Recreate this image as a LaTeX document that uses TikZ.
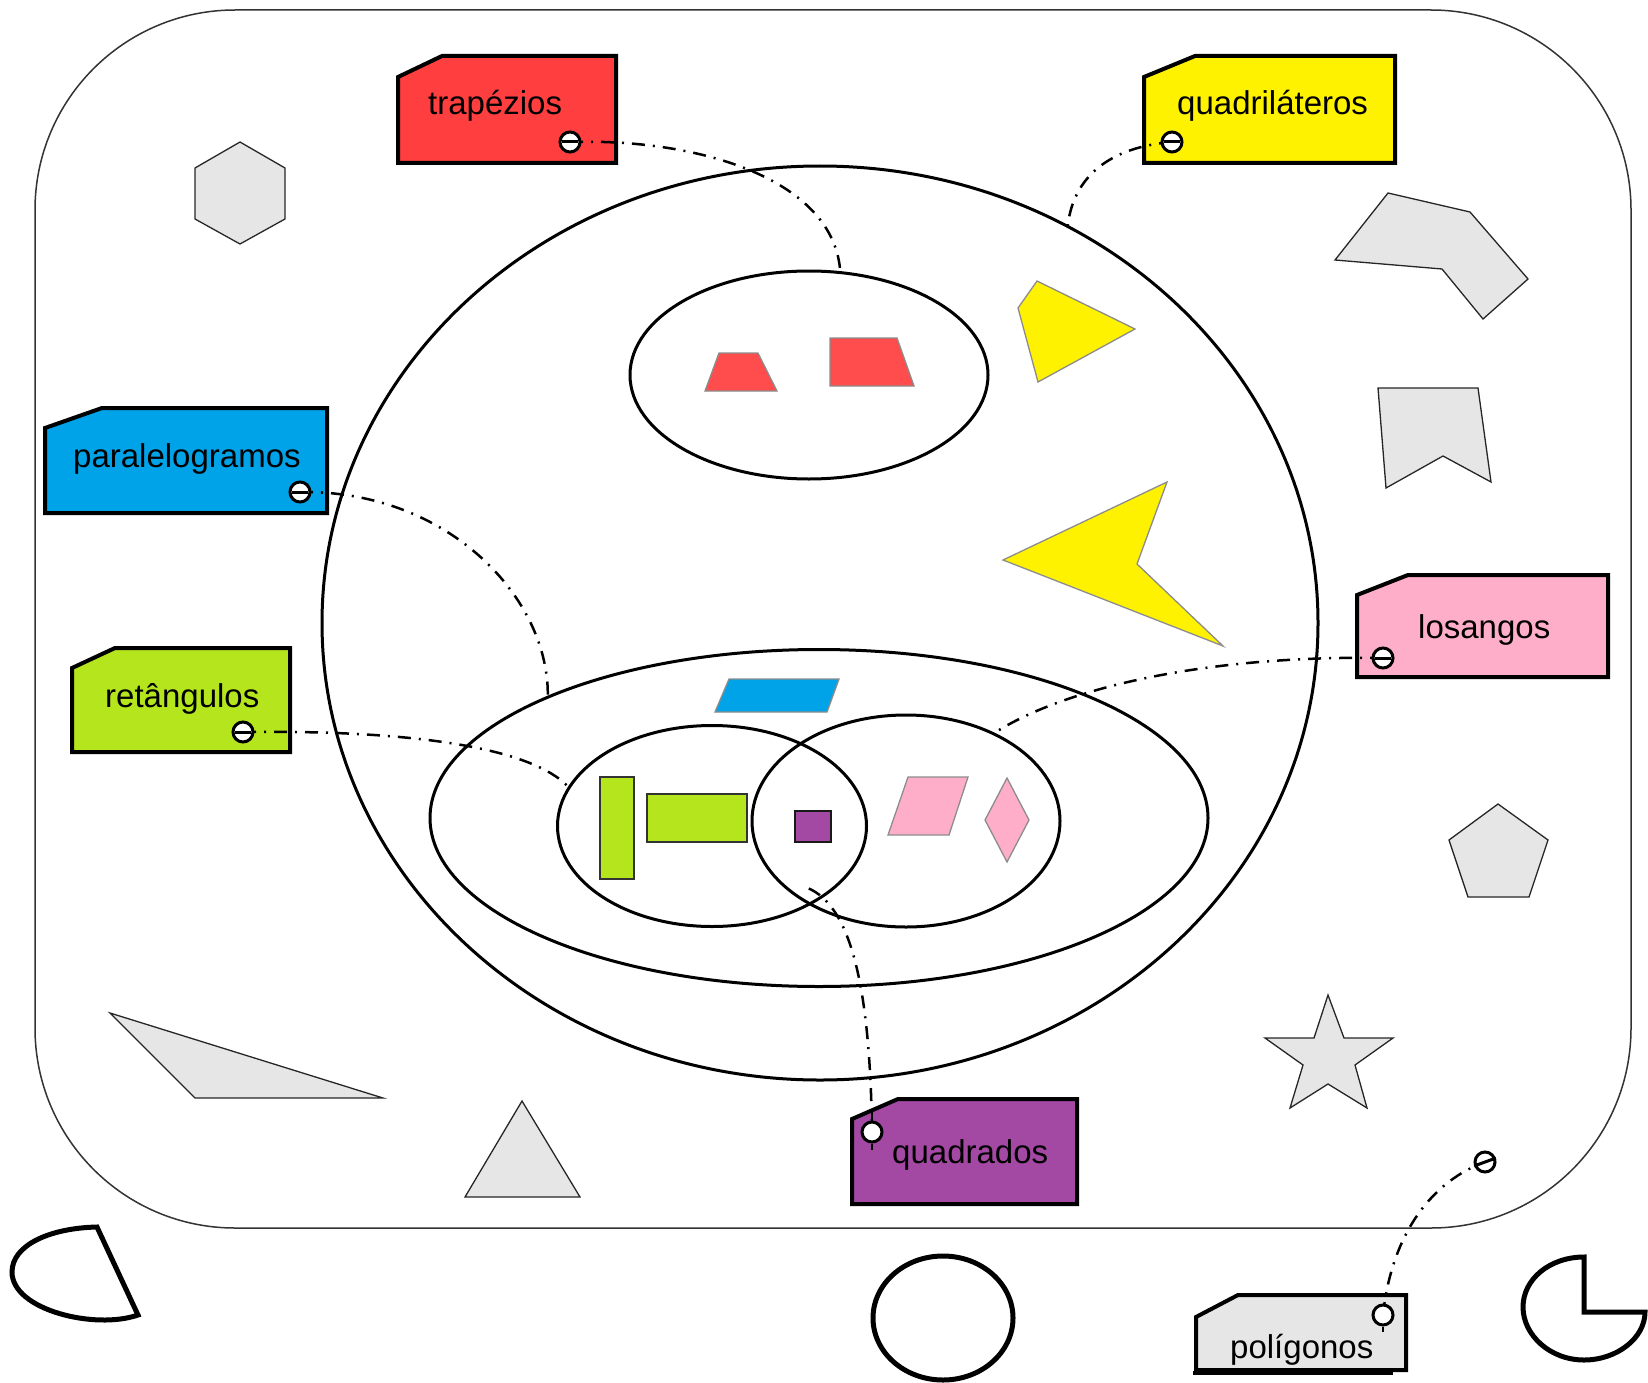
\documentclass[tikz,border=0pt]{standalone}
\usepackage{fontspec}
\setmainfont{Liberation Sans}
\usepackage{xcolor}
\usepackage{tikz}
\usetikzlibrary{shapes.geometric}

\definecolor{tagred}{HTML}{FF3F3F}
\definecolor{trapred}{HTML}{FF4C4C}
\definecolor{tagyellow}{HTML}{FFF200}
\definecolor{tagblue}{HTML}{00A2E8}
\definecolor{taggreen}{HTML}{B5E61D}
\definecolor{tagpink}{HTML}{FFAEC9}
\definecolor{tagpurple}{HTML}{A349A4}
\definecolor{shapegrey}{HTML}{E6E6E6}

\tikzset{
	conjunto/.style={ellipse, draw, line width=3pt, inner sep=0pt, outer sep=0pt},
	tagbox/.style={draw, line width=4pt, line join=miter},
	tagtext/.style={font=\fontsize{33}{40}\selectfont, anchor=base west, inner sep=0pt},
	tagopen/.style={circle, draw, fill=white, line width=3pt, minimum size=20pt, inner sep=0pt},
	tagsym/.style={tagopen, path picture={\draw[line width=3pt] ([xshift=2pt]path picture bounding box.west) -- ([xshift=-2pt]path picture bounding box.east);}},
	ligacao/.style={line width=2.5pt, dash pattern=on 13pt off 8pt on 2pt off 8pt},
	cinza/.style={fill=shapegrey, draw=black!85, line width=1.3pt},
	cor/.style={draw=black!45, line width=1.3pt},
	forma/.style={draw, line width=5pt, fill=white}
}

\begin{document}
\begin{tikzpicture}[x=1pt, y=-1pt]
	\useasboundingbox (0,0) rectangle (1648,1383);

	\draw [line width=1.5pt, black!80, rounded corners=200pt] (35,10) rectangle (1631,1228);

	\begin{scope}[cinza]
		\filldraw (240,142) -- (285,168) -- (285,219) -- (240,244) -- (195,219) -- (195,168) -- cycle;
		\filldraw (1335,260) -- (1388,193) -- (1470,212) -- (1528,279) -- (1483,319) -- (1442,269) -- cycle;
		\filldraw (1378,388) -- (1478,388) -- (1491,482) -- (1443,456) -- (1386,488) -- cycle;
		\filldraw (1498,804) -- (1548,840) -- (1529,897) -- (1468,897) -- (1449,840) -- cycle;
		\filldraw (1328,995) -- (1344,1038) -- (1393,1038) -- (1355,1065) -- (1367,1108) -- (1328,1084)
			-- (1290,1108) -- (1303,1065) -- (1265,1038) -- (1314,1038) -- cycle;
		\filldraw (110,1013) -- (383,1098) -- (195,1098) -- cycle;
		\filldraw (522,1101) -- (580,1197) -- (465,1197) -- cycle;
	\end{scope}

	\begin{scope}[forma]
		\filldraw (138,1315) .. controls (95,1330) and (12,1310) .. (12,1272) .. controls (12,1245) and (50,1228) .. (97,1227) -- cycle;
		\filldraw (943,1318) ellipse [x radius=70, y radius=62];
		\filldraw (1584,1257) -- (1584,1312) -- (1645,1312) .. controls (1645,1338) and (1617,1360) .. (1584,1360)
			.. controls (1550,1360) and (1523,1335) .. (1523,1307) .. controls (1523,1279) and (1550,1257) .. (1584,1257) -- cycle;
	\end{scope}

	\begin{scope}[cor]
		\filldraw [fill=trapred] (705,391) -- (719,353) -- (758,353) -- (777,391) -- cycle;
		\filldraw [fill=trapred] (830,338) -- (897,338) -- (914,386) -- (830,386) -- cycle;
		\filldraw [fill=tagyellow] (1018,308) -- (1037,281) -- (1135,329) -- (1038,382) -- cycle;
		\filldraw [fill=tagyellow] (1003,560) -- (1167,482) -- (1137,564) -- (1223,646) -- cycle;
		\filldraw [fill=tagblue] (715,712) -- (729,679) -- (839,679) -- (827,712) -- cycle;
		\filldraw [fill=tagpink] (888,835) -- (908,777) -- (968,777) -- (949,835) -- cycle;
		\filldraw [fill=tagpink] (1007,778) -- (1029,820) -- (1007,862) -- (985,820) -- cycle;
		\filldraw [fill=taggreen, draw=black!80, line width=2pt] (600,777) rectangle (634,879);
		\filldraw [fill=taggreen, draw=black!80, line width=2pt] (647,794) rectangle (747,842);
		\filldraw [fill=tagpurple, draw=black!90, line width=2pt] (795,811) rectangle (831,842);
	\end{scope}

	\node [conjunto, minimum width=996pt, minimum height=914pt] (bigset) at (820,623) {};
	\node [conjunto, minimum width=358pt, minimum height=208pt] (trapset) at (809,375) {};
	\node [conjunto, minimum width=778pt, minimum height=337pt] (botset) at (819,818) {};
	\node [conjunto, minimum width=309pt, minimum height=201pt] (leftset) at (712,826) {};
	\node [conjunto, minimum width=308pt, minimum height=212pt] (rightset) at (906,821) {};
	\coordinate (quadset) at (802,886);

	\begin{scope}[tagbox]
		\filldraw [fill=tagred] (398,77) -- (442,56) -- (616,56) -- (616,163) -- (398,163) -- cycle;
		\filldraw [fill=tagyellow] (1144,77) -- (1195,56) -- (1395,56) -- (1395,163) -- (1144,163) -- cycle;
		\filldraw [fill=tagblue] (45,428) -- (102,408) -- (327,408) -- (327,513) -- (45,513) -- cycle;
		\filldraw [fill=taggreen] (72,668) -- (115,648) -- (290,648) -- (290,752) -- (72,752) -- cycle;
		\filldraw [fill=tagpink] (1357,595) -- (1408,575) -- (1608,575) -- (1608,677) -- (1357,677) -- cycle;
		\filldraw [fill=tagpurple] (852,1119) -- (898,1099) -- (1077,1099) -- (1077,1204) -- (852,1204) -- cycle;
		\filldraw [fill=shapegrey] (1196,1317) -- (1238,1295) -- (1406,1295) -- (1406,1370) -- (1196,1370) -- cycle;
		\draw (1193,1373) -- (1393,1373);
	\end{scope}

	\node [tagtext] (trapezios) at (428,115) {trapézios};
	\node [tagtext] (quadrilateros) at (1177,115) {quadriláteros};
	\node [tagtext] (paralelogramos) at (73,467) {paralelogramos};
	\node [tagtext] (retangulos) at (105,707) {retângulos};
	\node [tagtext] (losangos) at (1418,638) {losangos};
	\node [tagtext] (quadrados) at (892,1163) {quadrados};
	\node [tagtext] (poligonos) at (1230,1358) {polígonos};

	\begin{scope}
		\draw [ligacao] (570,142) .. controls (700,138) and (835,180) .. (trapset.73);
		\draw [ligacao] (1172,142) .. controls (1100,148) and (1072,185) .. (bigset.58);
		\draw [ligacao] (300,492) .. controls (450,490) and (550,600) .. (botset.156);
		\draw [ligacao] (243,732) .. controls (400,730) and (530,745) .. (leftset.165);
		\draw [ligacao] (1383,658) .. controls (1200,655) and (1060,690) .. (rightset.45);
		\draw [ligacao] (872,1132) .. controls (870,990) and (852,900) .. (quadset);
		\draw [ligacao] (1383,1315) .. controls (1392,1230) and (1435,1180) .. (1485,1162);
	\end{scope}

	\node [tagsym] (trapsym) at (570,142) {};
	\node [tagsym] (qdlsym) at (1172,142) {};
	\node [tagsym] (parsym) at (300,492) {};
	\node [tagsym] (retsym) at (243,732) {};
	\node [tagsym] (lossym) at (1383,658) {};
	\node [tagopen] (quadsym) at (872,1132) {};
	\node [tagopen] (polsym) at (1383,1315) {};
	\node [tagopen] (polminus) at (1485,1162) {};
	\draw [line width=3pt] (polminus.200) -- (polminus.20);
	\draw [line width=2.5pt] (quadsym.north) -- ++(0,-12);
	\draw [line width=2.5pt] (quadsym.south) -- ++(0,6);
	\draw [line width=2.5pt] (polsym.south) -- ++(0,5);
\end{tikzpicture}
\end{document}
